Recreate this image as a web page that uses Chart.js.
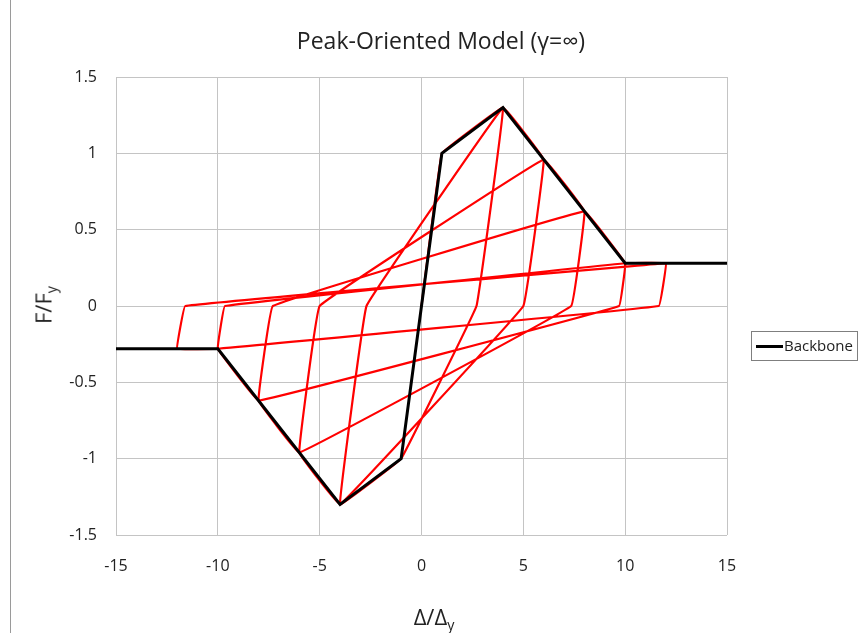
<!DOCTYPE html>
<html>
<head>
<meta charset="utf-8">
<script src="https://cdn.jsdelivr.net/npm/chart.js@4.4.1/dist/chart.umd.min.js"></script>
<style>
  html, body { margin: 0; padding: 0; background: #fff; }
  #wrap { position: relative; width: 862px; height: 633px; font-family: 'Open Sans', sans-serif; color: #222; }
  #wrap canvas { position: absolute; left: 0; top: 0; }
  .lbl { position: absolute; white-space: nowrap; }
  .lbl sub { font-size: 65%; vertical-align: -0.35em; }
  #title { left: 441px; top: 24px; transform: translateX(-50%); font-size: 23px; }
  #xtitle { left: 434px; top: 601px; transform: translateX(-50%); font-size: 22px; }
  #ytitle { left: 44px; top: 305px; transform: translate(-50%, -50%) rotate(-90deg); font-size: 22px; }
  #legend { left: 751px; top: 331px; width: 107px; height: 30px; border: 1px solid #7f7f7f; box-sizing: border-box; font-size: 15px; }
  #legend .swatch { position: absolute; left: 4px; top: 13px; width: 27px; height: 3px; background: #000; }
  #legend .txt { position: absolute; left: 32px; top: 3px; }
  #edge { position: absolute; left: 10px; top: 0; width: 1px; height: 633px; background: #9a9a9a; }
</style>
</head>
<body>
<div id="wrap">
  <canvas id="chart" width="862" height="633"></canvas>
  <div id="edge"></div>
  <div class="lbl" id="title">Peak-Oriented Model (γ=∞)</div>
  <div class="lbl" id="xtitle">Δ/Δ<sub>y</sub></div>
  <div class="lbl" id="ytitle">F/F<sub>y</sub></div>
  <div class="lbl" id="legend"><div class="swatch"></div><div class="txt">Backbone</div></div>
</div>
<script>
/* ── Datos ─────────────────────────────────────────────── */
const backboneX = [-15, -10, -4, -1, 1, 4, 10, 15];
const backboneY = [-0.28, -0.28, -1.3, -1.0, 1.0, 1.3, 0.28, 0.28];

// recorrido histerético (vértices)
const hystX = [0, 1, 4, 2.7, -1, -4, -2.7, 4, 6, 5.0, -4, -6, -5.0, 6, 8, 7.35,
               -6, -8, -7.3, 8, 10, 9.7, -8, -10, -9.65, 10, 12, 11.65, -10, -12, -11.6, 12];
const hystY = [0, 1, 1.3, 0, -1, -1.3, 0, 1.3, 0.96, 0, -1.3, -0.96, 0, 0.96, 0.62, 0,
               -0.96, -0.62, 0, 0.62, 0.28, 0, -0.62, -0.28, 0, 0.28, 0.28, 0, -0.28, -0.28, 0, 0.28];

const xTicks = [-15, -10, -5, 0, 5, 10, 15];
const yTicks = [-1.5, -1, -0.5, 0, 0.5, 1, 1.5];

const toPts = (xs, ys) => xs.map((x, i) => ({ x, y: ys[i] }));

const GRID = '#c4c4c4';
const TICK_FONT = { family: "'Open Sans', sans-serif", size: 16 };

new Chart(document.getElementById('chart'), {
  type: 'scatter',
  data: {
    datasets: [
      {
        label: 'Backbone', data: toPts(backboneX, backboneY),
        showLine: true, borderColor: '#000', borderWidth: 3,
        pointRadius: 0, tension: 0, order: 0,
      },
      {
        label: 'Hysteresis', data: toPts(hystX, hystY),
        showLine: true, borderColor: '#ff0000', borderWidth: 2.2,
        pointRadius: 0, tension: 0.04, order: 1,
      },
    ],
  },
  options: {
    responsive: false, animation: false,
    layout: { padding: { left: 0, right: 135, top: 77, bottom: 0 } },
    plugins: { legend: { display: false }, tooltip: { enabled: false } },
    scales: {
      x: {
        type: 'linear', min: -15, max: 15,
        afterBuildTicks: s => { s.ticks = xTicks.map(v => ({ value: v })); },
        afterFit: s => { s.height = 98; },
        grid: { color: GRID, drawTicks: false },
        border: { display: false },
        ticks: { padding: 22, color: '#222', font: TICK_FONT },
      },
      y: {
        type: 'linear', min: -1.5, max: 1.5,
        afterBuildTicks: s => { s.ticks = yTicks.map(v => ({ value: v })); },
        afterFit: s => { s.width = 116; },
        grid: { color: GRID, drawTicks: false },
        border: { display: false },
        ticks: { padding: 19, color: '#222', font: TICK_FONT, callback: v => String(v) },
      },
    },
  },
});
</script>
</body>
</html>
